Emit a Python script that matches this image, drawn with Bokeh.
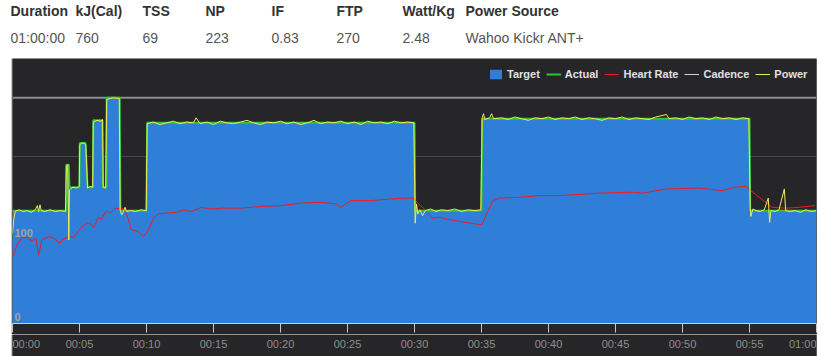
from bokeh.plotting import figure
from bokeh.models import Range1d, FixedTicker, Span, Label, Legend, LegendItem, Spacer
from bokeh.layouts import column, row
from bokeh.core.properties import value
from bokeh.embed import file_html
from bokeh.resources import INLINE

# ---------------- data ----------------
header_labels = ["Duration", "kJ(Cal)", "TSS", "NP", "IF", "FTP", "Watt/Kg", "Power Source"]
header_values = ["01:00:00", "760", "69", "223", "0.83", "270", "2.48", "Wahoo Kickr ANT+"]

x_tick_minutes = [0, 5, 10, 15, 20, 25, 30, 35, 40, 45, 50, 55, 60]
x_tick_labels = ["00:00", "00:05", "00:10", "00:15", "00:20", "00:25", "00:30",
                 "00:35", "00:40", "00:45", "00:50", "00:55", "01:00"]
y_tick_values = [0, 100]
y_tick_labels = ["0", "100"]
y_grid_values = [0, 100, 200]
ftp_watts = 270

target_min = [0, 4.0, 4.02, 4.2, 4.25, 5.0, 5.02, 5.45, 5.6, 6.0, 6.03, 6.7, 6.75, 7.0,
              7.03, 8.0, 8.05, 10.0, 10.05, 30.0, 30.05, 35.0, 35.05, 55.0, 55.05, 60]
target_w = [135, 135, 190, 190, 163, 163, 216, 216, 163, 163, 243, 243, 163, 163,
            270, 270, 135, 135, 240, 240, 135, 135, 245, 245, 135, 135]

actual_min = list(target_min)
actual_w = list(target_w)

hr_min = [0.04, 0.33, 0.71, 1.08, 1.45, 1.75, 1.95, 2.19, 2.69, 3.09, 3.53, 3.83, 4.18, 4.57,
          4.80, 5.17, 5.54, 5.76, 6.06, 6.41, 6.65, 6.95, 7.4, 7.7, 7.99, 8.2, 8.51, 8.88,
          9.38, 9.75, 9.93, 10.15, 10.52, 10.89, 11.49, 12.23, 12.75, 13.35, 14.09, 14.83,
          15.58, 17.06, 18.55, 20.04, 21.52, 23.01, 24.13, 24.5, 25.24, 26.73, 28.22, 29.33,
          29.93, 30.3, 30.82, 31.34, 31.93, 32.68, 33.42, 34.16, 35.03, 35.35, 35.87, 36.4,
          37.88, 39.37, 40.86, 43.83, 46.28, 47.03, 48.81, 51.26, 52.97, 53.86, 54.74, 55.1,
          55.72, 56.69, 57.71, 58.7, 59.9]
hr_bpm = [80, 94, 103, 103, 99, 102, 82, 100, 104, 102, 96, 101, 104, 103,
          108, 116, 120, 120, 115, 127, 125, 134, 133, 138, 137, 138, 131, 112,
          110, 104, 107, 112, 126, 131, 132, 133, 136, 134, 139, 137,
          138, 138, 140, 141, 144, 145, 143, 139, 147, 147, 149, 150,
          150, 143, 136, 126, 127, 124, 122, 120, 118, 130, 147, 150,
          151, 153, 153, 156, 157, 156, 161, 162, 159, 163, 164, 159,
          151, 139, 138, 139, 141]

# cadence was not recorded (no visible trace)
cadence_min = [0]
cadence_rpm = [float("nan")]

power_min = [0.0, 0.1, 0.2, 0.5, 0.8, 1.1, 1.4, 1.7, 1.85, 1.95, 2.05, 2.15, 2.4, 2.8, 3.2, 3.6, 3.95,
             4.02, 4.12, 4.18, 4.2, 4.25, 4.5, 4.8, 4.98,
             5.02, 5.2, 5.4, 5.47, 5.6, 5.8, 5.98,
             6.03, 6.3, 6.6, 6.72, 6.77, 6.95,
             7.03, 7.5, 7.97,
             8.03, 8.15, 8.25, 8.4, 8.5, 8.8, 9.2, 9.6, 9.98,
             10.05, 10.5, 11, 11.5, 12, 12.5, 13, 13.5, 13.7, 14, 14.5, 15, 15.5, 16, 16.5, 17,
             17.5, 18, 18.5, 19, 19.5, 20, 20.5, 21, 21.5, 22, 22.5, 23, 23.5, 24, 24.5, 25,
             25.5, 26, 26.5, 27, 27.5, 28, 28.5, 29, 29.5, 29.95,
             30.05, 30.15, 30.25, 30.4, 30.6, 30.8, 31.2, 31.6, 32, 32.5, 33, 33.5, 34, 34.5, 34.95,
             35.05, 35.15, 35.25, 35.6, 35.75, 35.9, 36.5, 37, 37.5, 38, 38.5, 39, 39.5, 40,
             40.5, 41, 41.5, 42, 42.5, 43, 43.5, 44, 44.5, 45, 45.5, 46, 46.5, 47, 47.5, 48,
             48.8, 49, 49.5, 50, 50.5, 51, 51.5, 52, 52.5, 53, 53.5, 54, 54.5, 54.95,
             55.05, 55.1, 55.25, 55.5, 55.8, 56.1, 56.4, 56.5, 56.6, 56.9, 57.2, 57.6, 57.7,
             58, 58.4, 58.8, 59.2, 59.6, 60]
power_w = [108, 125, 134, 136, 134, 135, 133, 136, 141, 134, 142, 135, 134, 136, 134, 135, 134,
           188, 190, 130, 100, 160, 163, 162, 164,
           214, 216, 215, 214, 162, 164, 163,
           241, 243, 242, 244, 163, 162,
           268, 270, 269,
           136, 130, 133, 139, 134, 135, 134, 136, 135,
           239, 241, 238, 240, 242, 239, 241, 240, 246, 239, 241, 238, 242, 240, 239, 241,
           243, 240, 238, 241, 240, 242, 239, 241, 238, 240, 243, 239, 241, 240, 242, 239,
           241, 238, 242, 240, 241, 239, 242, 240, 241, 240,
           120, 143, 131, 136, 129, 135, 137, 134, 136, 135, 137, 134, 136, 135, 136,
           246, 251, 244, 246, 251, 245, 246, 244, 247, 245, 243, 246, 245, 247,
           244, 246, 245, 247, 244, 246, 245, 243, 246, 245, 247, 244, 246, 245, 244, 247,
           250, 245, 246, 244, 247, 245, 246, 244, 247, 245, 246, 244, 246, 245,
           140, 128, 137, 135, 134, 136, 150, 121, 135, 134, 136, 161, 135,
           134, 135, 133, 136, 134, 135]

# ---------------- style ----------------
FONT = "Liberation Sans"
BG = "#262628"
BLUE = "#2f7ed8"
GREEN = "#2ec52e"
RED = "#ee1c22"
WHITE_LINE = "#d0d0d0"
YELLOW = "#ecec58"

PAGE_W = 829
HEADER_H = 58
CHART_W = 806
CHART_H = 276
STRIP_H = 22
PANEL_LEFT = 11


def bare(fig):
    fig.axis.visible = False
    fig.grid.visible = False
    fig.outline_line_color = None


# ---------------- header ----------------
col_x = [10, 75, 142, 205, 271, 336, 402, 465]
hdr = figure(width=PAGE_W, height=HEADER_H, x_range=Range1d(0, PAGE_W),
             y_range=Range1d(HEADER_H, 0), toolbar_location=None, output_backend="svg",
             min_border=0, background_fill_color="white", border_fill_color="white")
bare(hdr)
hdr.text(x=col_x, y=[10] * len(col_x), text=header_labels, text_font=value(FONT),
         text_font_style="bold", text_font_size="14px", text_color="#333333",
         text_baseline="middle", text_align="left")
hdr.text(x=col_x, y=[37] * len(col_x), text=header_values, text_font=value(FONT),
         text_font_size="14px", text_color="#555555",
         text_baseline="middle", text_align="left")

# ---------------- chart ----------------
xr = Range1d(0, 60)
p = figure(width=CHART_W, height=CHART_H, x_range=xr, y_range=Range1d(0, 317),
           toolbar_location=None, output_backend="svg",
           min_border_left=1, min_border_right=1, min_border_top=0, min_border_bottom=11,
           background_fill_color=BG, border_fill_color=BG, outline_line_color=None)
p.yaxis.visible = False
p.xgrid.visible = False
p.ygrid.ticker = FixedTicker(ticks=y_grid_values)
p.ygrid.grid_line_color = "#48484b"
p.ygrid.grid_line_width = 1

ax = p.xaxis[0]
ax.ticker = FixedTicker(ticks=x_tick_minutes)
ax.axis_line_color = "#d0d0d0"
ax.major_tick_line_color = "#c8c8c8"
ax.major_tick_out = 9
ax.major_tick_in = 0
ax.minor_tick_line_color = None
ax.major_label_text_font_size = "1px"
ax.major_label_text_color = None
ax.major_label_standoff = 0

p.add_layout(Span(location=ftp_watts, dimension="width", line_color="#8c8c8c",
                  line_width=2, level="underlay"))

r_target = p.varea(x=target_min, y1=0, y2=target_w, fill_color=BLUE)
r_actual = p.line(actual_min, actual_w, line_color=GREEN, line_width=2)
r_hr = p.line(hr_min, hr_bpm, line_color=RED, line_width=1)
r_cad = p.line(cadence_min, cadence_rpm, line_color=WHITE_LINE, line_width=1)
r_pow = p.line(power_min, power_w, line_color=YELLOW, line_width=1)

legend = Legend(items=[LegendItem(label="Target", renderers=[r_target]),
                       LegendItem(label="Actual", renderers=[r_actual]),
                       LegendItem(label="Heart Rate", renderers=[r_hr]),
                       LegendItem(label="Cadence", renderers=[r_cad]),
                       LegendItem(label="Power", renderers=[r_pow])],
                orientation="horizontal", location=(476, 243.5),
                padding=0, margin=0, spacing=6, label_standoff=4,
                glyph_width=15, glyph_height=12, label_height=12, label_width=10,
                label_text_font=FONT, label_text_font_size="11px",
                label_text_font_style="bold", label_text_color="#e0e0e3",
                background_fill_alpha=0, border_line_color=None)
p.add_layout(legend)

for v, lab in zip(y_tick_values, y_tick_labels):
    p.add_layout(Label(x=0, y=v, text=lab, x_offset=2, y_offset=3, text_baseline="bottom",
                       text_align="left", text_font=FONT, text_font_size="11px",
                       text_font_style="bold", text_color="#a3a3a3"))

# ---------------- x tick label strip ----------------
strip = figure(width=CHART_W, height=STRIP_H, x_range=xr, y_range=Range1d(STRIP_H, 0),
               toolbar_location=None, output_backend="svg",
               min_border_left=1, min_border_right=1, min_border_top=0, min_border_bottom=0,
               background_fill_color=BG, border_fill_color=BG)
bare(strip)
aligns = ["center"] * len(x_tick_minutes)
aligns[0] = "left"
aligns[-1] = "right"
strip.text(x=x_tick_minutes, y=[9] * len(x_tick_minutes), text=x_tick_labels,
           text_align=aligns, text_baseline="middle", text_font=value(FONT),
           text_font_size="11px", text_color="#8e8e8e")

chart_col = column(p, strip, spacing=0)
layout = column(hdr, row(Spacer(width=PANEL_LEFT, height=CHART_H + STRIP_H), chart_col),
                spacing=0)
open("out.html", "w").write(file_html(layout, INLINE))
